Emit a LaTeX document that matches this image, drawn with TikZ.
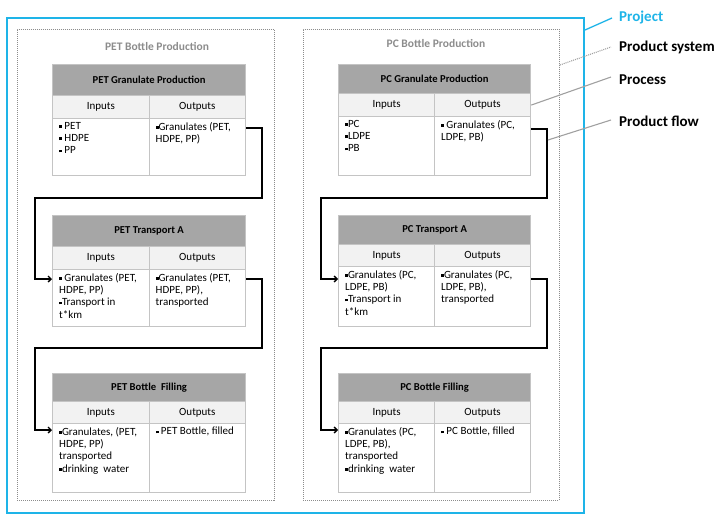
\documentclass[tikz,border=0pt]{standalone}
\usepackage{fontspec}
\setmainfont{Carlito}
\usetikzlibrary{arrows.meta}
\definecolor{cyanP}{HTML}{1EB4E8}
\definecolor{hdrgray}{HTML}{A6A6A6}
\definecolor{rowgray}{HTML}{F2F2F2}
\definecolor{bordergray}{HTML}{C4C4C4}
\definecolor{sysgray}{HTML}{8C8C8C}
\definecolor{leadgray}{HTML}{A0A0A0}
\newcommand\bul{\raisebox{1.5pt}{\rule{2.8pt}{2.8pt}}}
\newcommand\ptable[8]{%
 \pgfmathsetmacro\pM{(#2+#3)/2}%
 \node[hdr, minimum width={#3-#2}, minimum height={#5-#4}, anchor=north west] (#1-h) at (#2,#4) {#8};
 \node[iorow, minimum width={\pM-#2}, minimum height={#6-#5}, anchor=north west] (#1-i) at (#2,#5) {Inputs};
 \node[iorow, minimum width={#3-\pM}, minimum height={#6-#5}, anchor=north west] (#1-o) at (\pM,#5) {Outputs};
 \node[cell, minimum width={\pM-#2}, minimum height={#7-#6}, anchor=north west] (#1-ib) at (#2,#6) {};
 \node[cell, minimum width={#3-\pM}, minimum height={#7-#6}, anchor=north west] (#1-ob) at (\pM,#6) {};
}
\newcommand\ptexts[3]{%
 \node[ctext, anchor=north west] (#1-it) at ([shift={(7pt,-4pt)}]#1-ib.north west) {#2};
 \node[ctext, anchor=north west] (#1-ot) at ([shift={(7pt,-4pt)}]#1-ob.north west) {#3};
}
\begin{document}
\begin{tikzpicture}[x=1pt,y=-1pt,
  hdr/.style={draw=bordergray, line width=1.2pt, fill=hdrgray, inner sep=0pt, font=\fontsize{10.6}{12}\selectfont\bfseries},
  iorow/.style={draw=bordergray, line width=1.2pt, fill=rowgray, inner sep=0pt, font=\fontsize{11}{12}\selectfont},
  cell/.style={draw=bordergray, line width=1.2pt, fill=white, inner sep=0pt},
  ctext/.style={inner sep=0pt, align=left, font=\fontsize{11}{12.3}\selectfont},
  sysbox/.style={draw=sysgray, line width=0.9pt, dash pattern=on 1pt off 1pt, inner sep=0pt},
  projbox/.style={draw=cyanP, line width=2pt, inner sep=0pt},
  systitle/.style={text=sysgray, font=\fontsize{11.5}{13}\selectfont\bfseries, inner sep=0pt},
  lbl/.style={inner sep=0pt, anchor=west, font=\fontsize{15}{17}\selectfont\bfseries},
  leader/.style={draw=leadgray, line width=1.1pt},
  flow/.style={draw=black, line width=1.3pt, -{Straight Barb[length=3pt,width=6pt]}}]
\useasboundingbox (0,0) rectangle (728,524);
% frames
\node[projbox, minimum width=577, minimum height=495, anchor=north west] (proj) at (6,17) {};
\node[sysbox, minimum width=257, minimum height=471, anchor=north west] (petsys) at (17,29) {};
\node[sysbox, minimum width=256, minimum height=471, anchor=north west] (pcsys) at (303,29) {};
\node[systitle] (petsyst) at (157,47) {PET Bottle Production};
\node[systitle] (pcsyst) at (436,44) {PC Bottle Production};
% PET tables
\ptable{pg}{52}{245}{64}{95}{118}{175}{PET Granulate Production}
\ptexts{pg}{\bul\ PET\\\bul\ HDPE\\\bul\ PP}{\bul Granulates (PET,\\HDPE, PP)}
\ptable{pt}{52}{245}{215}{246}{269}{326}{PET Transport A}
\ptexts{pt}{\bul\ Granulates (PET,\\HDPE, PP)\\\bul Transport in\\t*km}{\bul Granulates (PET,\\HDPE, PP),\\transported}
\ptable{pf}{52}{245}{373}{401}{423}{492}{PET Bottle\ \ Filling}
\ptexts{pf}{\bul Granulates, (PET,\\HDPE, PP)\\transported\\\bul drinking\ \ water}{\bul\ PET Bottle, filled}
% PC tables
\ptable{cg}{338}{530}{64}{93}{116}{175}{PC Granulate Production}
\ptexts{cg}{\bul PC\\\bul LDPE\\\bul PB}{\bul\ Granulates (PC,\\LDPE, PB)}
\ptable{ct}{338}{530}{215}{244}{266}{326}{PC Transport A}
\ptexts{ct}{\bul Granulates (PC,\\LDPE, PB)\\\bul Transport in\\t*km}{\bul Granulates (PC,\\LDPE, PB),\\transported}
\ptable{cf}{338}{530}{373}{401}{423}{492}{PC Bottle Filling}
\ptexts{cf}{\bul Granulates (PC,\\LDPE, PB),\\transported\\\bul drinking\ \ water}{\bul\ PC Bottle, filled}
% flows
\draw[flow] ([yshift=-10pt]pg-ob.north east) -- (262,128) -- (262,198) -- (35,198) -- (35,279) -- ([yshift=-10pt]pt-ib.north west);
\draw[flow] ([yshift=-10pt]pt-ob.north east) -- (262,279) -- (262,348) -- (35,348) -- (35,430) -- ([yshift=-7pt]pf-ib.north west);
\draw[flow] ([yshift=-13pt]cg-ob.north east) -- (547,129) -- (547,198) -- (321,198) -- (321,279) -- ([yshift=-13pt]ct-ib.north west);
\draw[flow] ([yshift=-13pt]ct-ob.north east) -- (547,279) -- (547,348) -- (321,348) -- (321,430) -- ([yshift=-7pt]cf-ib.north west);
% legend
\node[lbl, text=cyanP] (lproj) at (619,18) {Project};
\node[lbl] (lsys) at (619,47) {Product system};
\node[lbl] (lproc) at (619,80) {Process};
\node[lbl] (lflow) at (619,121) {Product flow};
\coordinate (flowpt) at (548,140);
\draw[draw=cyanP, line width=1.3pt] ([yshift=-13pt]proj.north east) -- ([xshift=-7pt]lproj.west);
\draw[leader, dash pattern=on 1pt off 1pt] ([yshift=-36pt]pcsys.north east) -- ([xshift=-8pt]lsys.west);
\draw[leader] (cg-o.east) -- ([shift={(-8pt,3pt)}]lproc.west);
\draw[leader] (flowpt) -- ([shift={(-8pt,1pt)}]lflow.west);
\end{tikzpicture}
\end{document}
